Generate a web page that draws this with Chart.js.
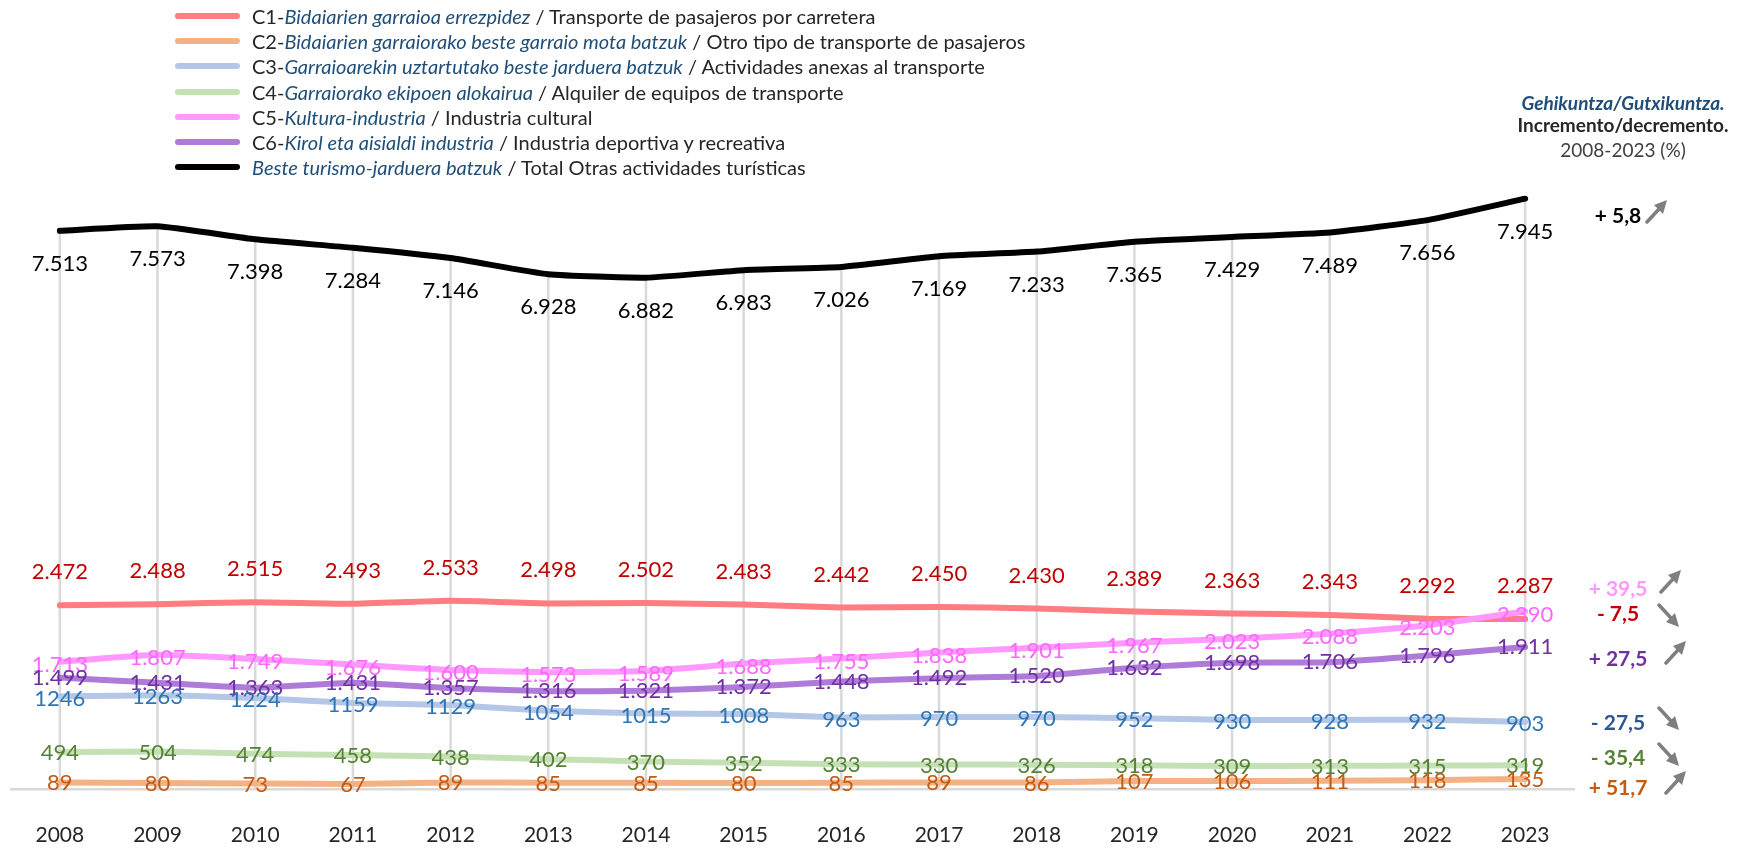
<!DOCTYPE html>
<html>
<head>
<meta charset="utf-8">
<script src="https://cdn.jsdelivr.net/npm/chart.js@4"></script>
<style>
  body { margin: 0; background: #fff; }
  #wrap { position: relative; width: 1752px; height: 848px; font-family: Lato, "Open Sans", sans-serif; }
  #chart { position: absolute; left: 0; top: 0; }
  .leg-row { position: absolute; left: 175px; height: 24px; display: flex; align-items: center; white-space: nowrap; }
  .leg-line { width: 65px; height: 6px; border-radius: 3px; margin-right: 12px; }
  .leg-text { font-size: 20px; color: #262626; }
  .leg-text i { color: #1f4e79; }
  .head { position: absolute; width: 260px; left: 1493px; text-align: center; white-space: nowrap; font-size: 19px; line-height: 24px; }
  .note { position: absolute; width: 80px; text-align: center; font-weight: bold; font-size: 21px; line-height: 24px; white-space: pre; }
  .arrow { position: absolute; width: 26px; height: 26px; }
</style>
</head>
<body>
<div id="wrap">
  <canvas id="chart" width="1752" height="848"></canvas>
  <div id="legend"></div>
  <div class="head" style="top:91px; color:#1f4e79; font-weight:bold; font-style:italic;">Gehikuntza/Gutxikuntza.</div>
  <div class="head" style="top:113px; color:#262626; font-weight:bold;">Incremento/decremento.</div>
  <div class="head" style="top:138px; color:#404040;">2008-2023 (%)</div>
  <div id="notes"></div>
</div>
<script>
// --- Data ---
const years = ['2008', '2009', '2010', '2011', '2012', '2013', '2014', '2015', '2016', '2017', '2018', '2019', '2020', '2021', '2022', '2023'];
const c1Values = [2472, 2488, 2515, 2493, 2533, 2498, 2502, 2483, 2442, 2450, 2430, 2389, 2363, 2343, 2292, 2287];
const c2Values = [89, 80, 73, 67, 89, 85, 85, 80, 85, 89, 86, 107, 106, 111, 118, 135];
const c3Values = [1246, 1263, 1224, 1159, 1129, 1054, 1015, 1008, 963, 970, 970, 952, 930, 928, 932, 903];
const c4Values = [494, 504, 474, 458, 438, 402, 370, 352, 333, 330, 326, 318, 309, 313, 315, 319];
const c5Values = [1713, 1807, 1749, 1676, 1600, 1573, 1589, 1688, 1755, 1838, 1901, 1967, 2023, 2088, 2203, 2390];
const c6Values = [1499, 1431, 1363, 1431, 1357, 1316, 1321, 1372, 1448, 1492, 1520, 1632, 1698, 1706, 1796, 1911];
const totalValues = [7513, 7573, 7398, 7284, 7146, 6928, 6882, 6983, 7026, 7169, 7233, 7365, 7429, 7489, 7656, 7945];

// % change 2008-2023, in the order they are listed on the right
const changeNames = ['total', 'c5', 'c1', 'c6', 'c3', 'c4', 'c2'];
const changePct = [5.8, 39.5, -7.5, 27.5, -27.5, -35.4, 51.7];

const legendEu = ['C1-Bidaiarien garraioa errezpidez', 'C2-Bidaiarien garraiorako beste garraio mota batzuk', 'C3-Garraioarekin uztartutako beste jarduera batzuk', 'C4-Garraiorako ekipoen alokairua', 'C5-Kultura-industria', 'C6-Kirol eta aisialdi industria', 'Beste turismo-jarduera batzuk'];
const legendEs = ['Transporte de pasajeros por carretera', 'Otro tipo de transporte de pasajeros', 'Actividades anexas al transporte', 'Alquiler de equipos de transporte', 'Industria cultural', 'Industria deportiva y recreativa', 'Total Otras actividades turísticas'];

// --- Styles ---
const series = {
    c1: { data: c1Values, line: '#ff7c80', text: '#c00000', dy: -33, sep: true },
    c2: { data: c2Values, line: '#f4b183', text: '#c55a11', dy: 1, sep: true },
    c3: { data: c3Values, line: '#b4c7e7', text: '#2e75b6', dy: 2, sep: false },
    c4: { data: c4Values, line: '#c5e0b4', text: '#548235', dy: 1, sep: true },
    c5: { data: c5Values, line: '#ff99ff', text: '#ff66ff', dy: 3, sep: true },
    c6: { data: c6Values, line: '#ae7bd8', text: '#7030a0', dy: 0, sep: true },
    total: { data: totalValues, line: '#000000', text: '#000000', dy: 33, sep: true }
};
const legendKeys = ['c1', 'c2', 'c3', 'c4', 'c5', 'c6', 'total'];
const noteColors = { total: '#000000', c5: '#ff99ff', c1: '#c00000', c6: '#7030a0', c3: '#2f5597', c4: '#548235', c2: '#c55a11' };
const noteY = [215, 588, 613, 658, 722, 757, 787];
const arrowPos = [[1657, 211], [1671, 581], [1669, 616], [1676, 652], [1669, 719], [1669, 755], [1676, 782]];

function fmt(v, sep) {
    const s = String(v);
    return sep && s.length > 3 ? s.slice(0, -3) + '.' + s.slice(-3) : s;
}

// --- Legend ---
const legendBox = document.getElementById('legend');
legendKeys.forEach((key, i) => {
    const row = document.createElement('div');
    row.className = 'leg-row';
    row.style.top = (15.6 + 25.3 * i - 12) + 'px';
    const eu = legendEu[i];
    const dash = eu.indexOf('-');
    const euHtml = /^C\d-/.test(eu) ? eu.slice(0, dash + 1) + '<i>' + eu.slice(dash + 1) + '</i>' : '<i>' + eu + '</i>';
    row.innerHTML = `<div class="leg-line" style="background:${series[key].line}"></div>
        <div class="leg-text">${euHtml} / ${legendEs[i]}</div>`;
    legendBox.appendChild(row);
});

// --- Right notes ---
const notesBox = document.getElementById('notes');
changeNames.forEach((key, i) => {
    const v = changePct[i];
    const txt = (v >= 0 ? '+ ' : '- ') + Math.abs(v).toFixed(1).replace('.', ',');
    const d = document.createElement('div');
    d.className = 'note';
    d.style.left = (1618 - 40) + 'px';
    d.style.top = (noteY[i] - 12) + 'px';
    d.style.color = noteColors[key];
    d.textContent = txt;
    notesBox.appendChild(d);

    const up = v >= 0;
    const a = document.createElement('div');
    a.className = 'arrow';
    a.style.left = (arrowPos[i][0] - 13) + 'px';
    a.style.top = (arrowPos[i][1] - 13) + 'px';
    a.innerHTML = `<svg width="26" height="26" viewBox="0 0 26 26" style="transform:${up ? 'none' : 'scaleY(-1)'}">
        <line x1="3" y1="24" x2="15" y2="11" stroke="#7f7f7f" stroke-width="3.5" stroke-linecap="round"/>
        <polygon points="23,2 10,7 19,16" fill="#7f7f7f"/></svg>`;
    notesBox.appendChild(a);
});

// --- Plugins ---
const dropLines = {
    id: 'dropLines',
    beforeDatasetsDraw(chart) {
        const meta = chart.getDatasetMeta(0);
        const y0 = chart.scales.y.getPixelForValue(0);
        const ctx = chart.ctx;
        ctx.save();
        ctx.strokeStyle = '#d9d9d9';
        ctx.lineWidth = 2.5;
        meta.data.forEach(pt => {
            ctx.beginPath();
            ctx.moveTo(pt.x, pt.y);
            ctx.lineTo(pt.x, y0);
            ctx.stroke();
        });
        ctx.restore();
    }
};

const valueLabels = {
    id: 'valueLabels',
    afterDatasetsDraw(chart) {
        const ctx = chart.ctx;
        ctx.save();
        ctx.font = '22px Lato';
        ctx.textAlign = 'center';
        ctx.textBaseline = 'middle';
        chart.data.datasets.forEach((ds, di) => {
            const s = series[ds.key];
            ctx.fillStyle = s.text;
            chart.getDatasetMeta(di).data.forEach((pt, i) => {
                ctx.fillText(fmt(ds.data[i], s.sep), pt.x, pt.y + s.dy);
            });
        });
        ctx.restore();
    }
};

// --- Chart ---
const drawOrder = ['total', 'c5', 'c6', 'c1', 'c3', 'c4', 'c2'];
const ctx = document.getElementById('chart').getContext('2d');
new Chart(ctx, {
    type: 'line',
    data: {
        labels: years,
        datasets: drawOrder.map(key => ({
            key: key,
            data: series[key].data,
            borderColor: series[key].line,
            borderWidth: 6,
            borderCapStyle: 'round',
            borderJoinStyle: 'round',
            pointRadius: 0,
            tension: 0.15,
            fill: false
        }))
    },
    options: {
        responsive: false,
        devicePixelRatio: 1,
        animation: false,
        layout: { padding: { left: 11, right: 178, top: 46, bottom: 0 } },
        plugins: { legend: { display: false }, tooltip: { enabled: false } },
        scales: {
            x: {
                offset: true,
                grid: { display: false, drawTicks: false },
                border: { display: true, color: '#d9d9d9', width: 2.5 },
                ticks: { padding: 34, color: '#262626', font: { family: 'Lato', size: 21 } },
                afterFit: (scale) => { scale.height = 59; }
            },
            y: { display: false, min: 0, max: 10000 }
        }
    },
    plugins: [dropLines, valueLabels]
});
</script>
</body>
</html>
